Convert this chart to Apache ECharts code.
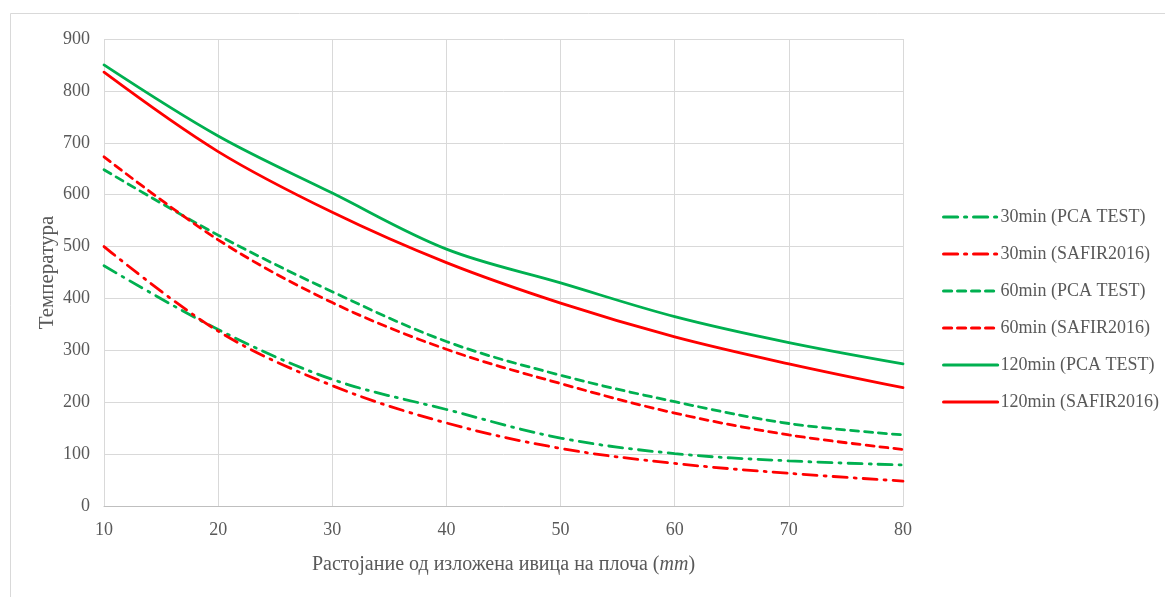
<!DOCTYPE html>
<html><head><meta charset="utf-8">
<script src="https://cdn.jsdelivr.net/npm/echarts@6/dist/echarts.min.js"></script>
<style>html,body{margin:0;padding:0;background:#fff}#c{width:1165px;height:597px}</style>
</head><body><div id="c"></div>
<script>
const xValues = [10, 20, 30, 40, 50, 60, 70, 80];
const pca30 = [463, 340, 244, 186, 131, 101, 87, 79];
const safir30 = [500, 337, 232, 160, 111, 82, 63, 48];
const pca60 = [648, 522, 413, 317, 252, 201, 159, 137];
const safir60 = [673, 513, 392, 302, 236, 179, 137, 109];
const pca120 = [850, 713, 603, 495, 430, 365, 315, 274];
const safir120 = [836, 683, 566, 469, 391, 326, 274, 228];
const seriesNames = ['30min (PCA TEST)', '30min (SAFIR2016)', '60min (PCA TEST)', '60min (SAFIR2016)', '120min (PCA TEST)', '120min (SAFIR2016)'];
const yName = 'Температура';

const GREEN = '#00B050', RED = '#FF0000';
const dashDot = [14, 7, 2, 7];
const dashed = [8, 6];
const font = '"Liberation Serif", "Times New Roman", serif';

function mk(name, vals, color, type) {
  return {
    name, type: 'line', smooth: 0.35, symbol: 'none', showSymbol: false,
    data: xValues.map((x, i) => [x, vals[i]]),
    lineStyle: { color, width: 2.8, type, cap: 'round' },
    itemStyle: { color },
    emphasis: { disabled: true }
  };
}

const chart = echarts.init(document.getElementById('c'), null, { renderer: 'canvas' });
chart.setOption({
  animation: false,
  backgroundColor: '#fff',
  graphic: [{ type: 'rect', shape: { x: 10.5, y: 13.5, width: 1200, height: 700 }, style: { fill: 'none', stroke: '#d9d9d9', lineWidth: 1 }, silent: true, z: -1 }],
  grid: { left: 104, right: 262, top: 39, bottom: 91, containLabel: false },
  legend: {
    orient: 'vertical', left: 937, top: 203, itemWidth: 54, itemHeight: 14, itemGap: 19,
    data: seriesNames.map(n => ({ name: n })),
    itemStyle: { opacity: 0 },
    lineStyle: { width: 3.2 },
    textStyle: { fontFamily: font, fontSize: 18, color: '#595959', padding: [0, 0, 0, -2] }
  },
  xAxis: {
    type: 'value', min: 10, max: 80, interval: 10,
    name: '{a|Растојание од изложена ивица на плоча (}{b|mm}{a|)}', nameLocation: 'middle', nameGap: 49,
    nameMoveOverlap: false,
    nameTextStyle: { rich: { a: { fontFamily: font, fontSize: 20, color: '#595959' }, b: { fontFamily: font, fontSize: 20, color: '#595959', fontStyle: 'italic' } } },
    axisLine: { show: true, lineStyle: { color: '#bfbfbf', width: 1 } },
    axisTick: { show: false },
    axisLabel: { fontFamily: font, fontSize: 18, color: '#595959', margin: 15 },
    splitLine: { show: true, lineStyle: { color: '#d9d9d9', width: 1 } }
  },
  yAxis: {
    type: 'value', min: 0, max: 900, interval: 100,
    name: yName, nameLocation: 'middle', nameGap: 46, nameRotate: 90,
    nameMoveOverlap: false,
    nameTextStyle: { fontFamily: font, fontSize: 21, color: '#595959' },
    axisLine: { show: false }, axisTick: { show: false },
    axisLabel: { fontFamily: font, fontSize: 18, color: '#595959', margin: 14 },
    splitLine: { show: true, lineStyle: { color: '#d9d9d9', width: 1 } }
  },
  series: [
    mk(seriesNames[0], pca30, GREEN, dashDot),
    mk(seriesNames[1], safir30, RED, dashDot),
    mk(seriesNames[2], pca60, GREEN, dashed),
    mk(seriesNames[3], safir60, RED, dashed),
    mk(seriesNames[4], pca120, GREEN, 'solid'),
    mk(seriesNames[5], safir120, RED, 'solid')
  ]
});
</script></body></html>
